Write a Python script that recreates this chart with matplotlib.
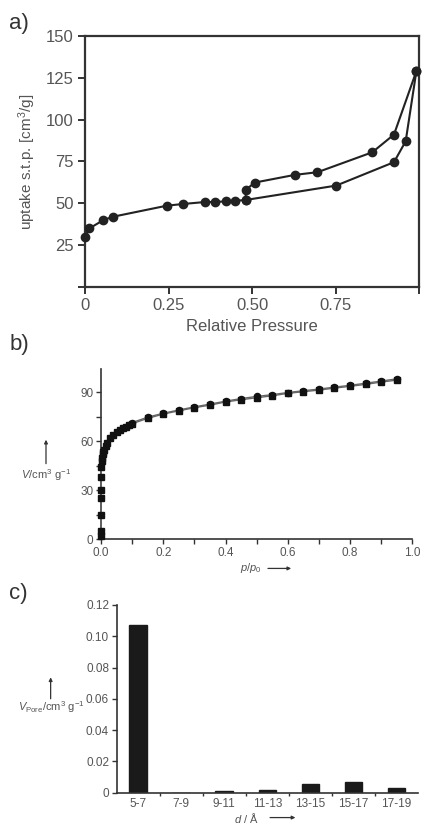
import matplotlib
matplotlib.use("Agg")
import matplotlib.pyplot as plt

plt.rcParams['font.family'] = ['Liberation Sans', 'DejaVu Sans']
plt.rcParams['mathtext.fontset'] = 'custom'
plt.rcParams['mathtext.rm'] = 'Liberation Sans'
plt.rcParams['mathtext.it'] = 'Liberation Sans:italic'

# ---- Panel a data ----
ads_p = [0.0, 0.013, 0.055, 0.084, 0.245, 0.293, 0.36, 0.389, 0.422, 0.449, 0.481, 0.752, 0.925, 0.96, 0.992]
ads_v = [30, 35, 40, 42, 48.6, 49.6, 50.8, 50.8, 51.2, 51.5, 52, 60.6, 74.6, 87.1, 129]
des_p = [0.992, 0.925, 0.86, 0.696, 0.628, 0.508, 0.481, 0.481]
des_v = [129, 91.1, 80.5, 68.6, 67, 62.4, 58, 52]
a_xticks = [0, 0.25, 0.5, 0.75]
a_xticklabels = ['0', '0.25', '0.50', '0.75']
a_yticks = [25, 50, 75, 100, 125, 150]

# ---- Panel b data ----
b_ads_p = [0.0, 0.0, 0.0, 0.0, 0.0, 0.001, 0.001, 0.002, 0.003, 0.005, 0.008, 0.01, 0.015, 0.02,
           0.03, 0.04, 0.05, 0.06, 0.07, 0.08, 0.09, 0.10, 0.15, 0.20, 0.25, 0.30, 0.35, 0.40,
           0.45, 0.50, 0.55, 0.60, 0.65, 0.70, 0.75, 0.80, 0.85, 0.90, 0.95]
b_ads_v = [2, 5, 15, 25, 30, 38, 44, 48, 50, 52, 53.5, 55, 57, 59,
           61.8, 64, 65.5, 66.7, 68, 68.9, 69.8, 70.8, 74.1, 76.7, 78.7, 80.6, 82.2, 84.1,
           85.5, 86.7, 87.9, 89.4, 90.4, 91.4, 92.6, 93.7, 94.9, 96.3, 97.5]
b_des_p = [0.95, 0.90, 0.85, 0.80, 0.75, 0.70, 0.65, 0.60, 0.55, 0.50, 0.45, 0.40, 0.35, 0.30, 0.25, 0.20, 0.15, 0.10]
b_des_v = [98.3, 96.9, 95.6, 94.3, 93.2, 92.0, 91.0, 89.9, 88.6, 87.5, 86.2, 84.6, 82.8, 81.1, 79.2, 77.2, 74.8, 71.5]

# ---- Panel c data ----
c_cats = ['5-7', '7-9', '9-11', '11-13', '13-15', '15-17', '17-19']
c_vals = [0.1072, 0.0, 0.0013, 0.0014, 0.0054, 0.0070, 0.0032]

TXT = '#555555'
LINE = '#222222'

fig = plt.figure(figsize=(4.22, 8.25), dpi=100)


def fig_arrow(ax, start, end):
    ax.annotate('', xy=end, xytext=start, xycoords='figure fraction', textcoords='figure fraction',
                annotation_clip=False,
                arrowprops=dict(arrowstyle='-|>', color='#333333', lw=0.9, mutation_scale=5,
                                shrinkA=0, shrinkB=0))


# ---------------- Panel a ----------------
axa = fig.add_axes([0.2014, 0.6521, 0.7916, 0.3043])
axa.plot(ads_p, ads_v, '-o', color=LINE, lw=1.5, ms=6, mfc=LINE, mec=LINE, clip_on=False, zorder=3)
axa.plot(des_p, des_v, '-o', color=LINE, lw=1.5, ms=6, mfc=LINE, mec=LINE, clip_on=False, zorder=3)
axa.set_xlim(0, 1)
axa.set_ylim(0, 150)
axa.set_xticks(a_xticks + [1.0])
axa.set_xticklabels(a_xticklabels + [''])
axa.set_yticks([0] + a_yticks)
axa.set_yticklabels([''] + [str(t) for t in a_yticks])
for s in axa.spines.values():
    s.set_color('#333333')
    s.set_linewidth(1.6)
axa.tick_params(axis='both', direction='out', length=5, width=1.4, color='#333333',
                labelsize=12, labelcolor=TXT, pad=3)
axa.set_xlabel('Relative Pressure', fontsize=12, color=TXT, labelpad=4)
axa.set_ylabel('uptake s.t.p. [cm$^3$/g]', fontsize=11, color=TXT, labelpad=6)
fig.text(0.022, 0.972, 'a)', fontsize=16, color='#333333', va='center', ha='left')

# ---------------- Panel b ----------------
axb = fig.add_axes([0.2393, 0.3463, 0.7377, 0.2064])
axb.plot(b_ads_p, b_ads_v, '-s', color='#666666', lw=1.0, ms=4.4, mfc='#111111', mec='#111111', clip_on=False, zorder=3)
axb.plot(b_des_p, b_des_v, '-o', color='#666666', lw=1.0, ms=4.4, mfc='#111111', mec='#111111', clip_on=False, zorder=3)
axb.set_xlim(0, 1.0)
axb.set_ylim(0, 104.3)
axb.set_xticks([0.0, 0.2, 0.4, 0.6, 0.8, 1.0])
axb.set_xticklabels(['0.0', '0.2', '0.4', '0.6', '0.8', '1.0'])
axb.set_xticks([0.1, 0.3, 0.5, 0.7, 0.9], minor=True)
axb.set_yticks([0, 30, 60, 90])
axb.set_yticks([15, 45, 75], minor=True)
axb.spines['top'].set_visible(False)
axb.spines['right'].set_visible(False)
for s in ['left', 'bottom']:
    axb.spines[s].set_color('#333333')
    axb.spines[s].set_linewidth(1.2)
axb.tick_params(axis='both', which='both', direction='out', length=3.5, width=1.0, color='#333333',
                labelsize=8.5, labelcolor=TXT, pad=2)
fig.text(0.022, 0.582, 'b)', fontsize=16, color='#333333', va='center', ha='left')
fig.text(0.108, 0.424, r'$\it{V}$/cm$^3$ g$^{-1}$', fontsize=8, color=TXT, ha='center', va='center')
fig_arrow(axb, (0.109, 0.438), (0.109, 0.467))
fig.text(0.595, 0.312, r'$\it{p}$/$\it{p}_{0}$', fontsize=8, color=TXT, ha='center', va='center')
fig_arrow(axb, (0.635, 0.311), (0.69, 0.311))

# ---------------- Panel c ----------------
axc = fig.add_axes([0.2765, 0.0392, 0.714, 0.2275])
xs = list(range(len(c_cats)))
axc.bar(xs, c_vals, width=0.41, color='#1a1a1a', edgecolor='#1a1a1a')
axc.set_xlim(-0.5, len(c_cats) - 0.5)
axc.set_ylim(0, 0.12)
axc.set_xticks(xs)
axc.set_xticklabels(c_cats)
axc.set_xticks([i + 0.5 for i in xs[:-1]], minor=True)
axc.set_yticks([0, 0.02, 0.04, 0.06, 0.08, 0.10, 0.12])
axc.set_yticklabels(['0', '0.02', '0.04', '0.06', '0.08', '0.10', '0.12'])
axc.spines['top'].set_visible(False)
axc.spines['right'].set_visible(False)
for s in ['left', 'bottom']:
    axc.spines[s].set_color('#333333')
    axc.spines[s].set_linewidth(1.2)
axc.tick_params(axis='x', which='major', length=0, labelsize=8.5, labelcolor=TXT, pad=4)
axc.tick_params(axis='x', which='minor', direction='out', length=2, width=1.0, color='#333333')
axc.tick_params(axis='y', direction='out', length=3.5, width=1.0, color='#333333',
                labelsize=8.5, labelcolor=TXT, pad=2)
fig.text(0.022, 0.281, 'c)', fontsize=16, color='#333333', va='center', ha='left')
fig.text(0.122, 0.143, r'$\it{V}_{\rm Pore}$/cm$^3$ g$^{-1}$', fontsize=8, color=TXT, ha='center', va='center')
fig_arrow(axc, (0.12, 0.153), (0.12, 0.179))
fig.text(0.585, 0.008, r'$\it{d}$ / Å', fontsize=8, color=TXT, ha='center', va='center')
fig_arrow(axc, (0.64, 0.009), (0.70, 0.009))

fig.savefig('out.png', dpi=100, facecolor='white')
